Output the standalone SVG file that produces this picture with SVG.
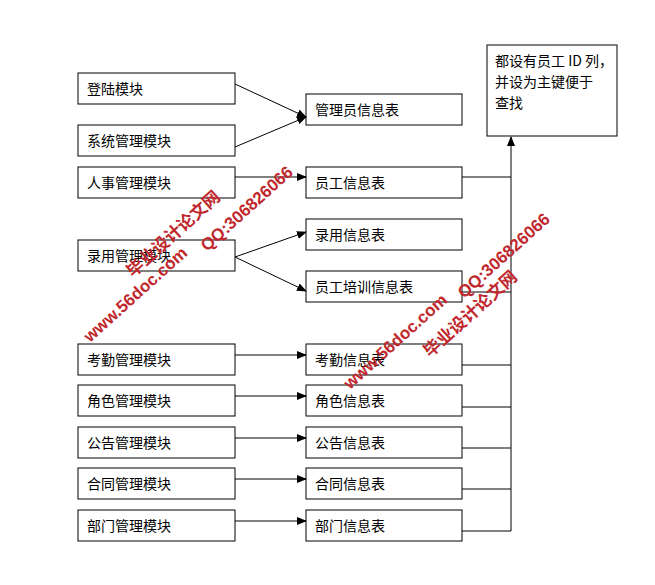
<svg xmlns="http://www.w3.org/2000/svg" width="655" height="585" viewBox="0 0 655 585">
<defs>
<marker id="a" markerWidth="10" markerHeight="8" refX="9" refY="4" orient="auto" markerUnits="userSpaceOnUse"><path d="M0,0 L10,4 L0,8 Z" fill="#000"/></marker>
<style>
.b{fill:#fff;stroke:#000;stroke-width:1}
.t{font-family:"Noto Sans CJK SC",sans-serif;font-size:14px;fill:#000}
.c{stroke:#000;stroke-width:1;fill:none}
.w{font-family:"Liberation Sans","Noto Sans CJK SC",sans-serif;font-weight:bold;fill:#c0282d;font-size:17px}
</style>
</defs>
<rect width="655" height="585" fill="#fff"/>
<g id="n1"><rect class="b" x="78" y="73" width="157" height="31"/><text class="t" x="87" y="94">登陆模块</text></g>
<g id="n2"><rect class="b" x="78" y="125" width="157" height="31"/><text class="t" x="87" y="146">系统管理模块</text></g>
<g id="n3"><rect class="b" x="78" y="167" width="157" height="31"/><text class="t" x="87" y="188">人事管理模块</text></g>
<g id="n4"><rect class="b" x="78" y="240" width="157" height="31"/><text class="t" x="87" y="261">录用管理模块</text></g>
<g id="n5"><rect class="b" x="78" y="344" width="157" height="31"/><text class="t" x="87" y="365">考勤管理模块</text></g>
<g id="n6"><rect class="b" x="78" y="385" width="157" height="31"/><text class="t" x="87" y="406">角色管理模块</text></g>
<g id="n7"><rect class="b" x="78" y="427" width="157" height="31"/><text class="t" x="87" y="448">公告管理模块</text></g>
<g id="n8"><rect class="b" x="78" y="468" width="157" height="31"/><text class="t" x="87" y="489">合同管理模块</text></g>
<g id="n9"><rect class="b" x="78" y="510" width="157" height="31"/><text class="t" x="87" y="531">部门管理模块</text></g>
<g id="m1"><rect class="b" x="306" y="94" width="156" height="31"/><text class="t" x="315" y="115">管理员信息表</text></g>
<g id="m2"><rect class="b" x="306" y="167" width="156" height="31"/><text class="t" x="315" y="188">员工信息表</text></g>
<g id="m3"><rect class="b" x="306" y="219" width="156" height="31"/><text class="t" x="315" y="240">录用信息表</text></g>
<g id="m4"><rect class="b" x="306" y="271" width="156" height="31"/><text class="t" x="315" y="292">员工培训信息表</text></g>
<g id="m5"><rect class="b" x="306" y="344" width="156" height="31"/><text class="t" x="315" y="365">考勤信息表</text></g>
<g id="m6"><rect class="b" x="306" y="385" width="156" height="31"/><text class="t" x="315" y="406">角色信息表</text></g>
<g id="m7"><rect class="b" x="306" y="427" width="156" height="31"/><text class="t" x="315" y="448">公告信息表</text></g>
<g id="m8"><rect class="b" x="306" y="468" width="156" height="31"/><text class="t" x="315" y="489">合同信息表</text></g>
<g id="m9"><rect class="b" x="306" y="510" width="156" height="31"/><text class="t" x="315" y="531">部门信息表</text></g>
<g id="note"><rect class="b" x="487" y="45" width="130" height="91"/><text class="t" x="495" y="66">都设有员工 ID 列，</text><text class="t" x="495" y="87">并设为主键便于</text><text class="t" x="495" y="108">查找</text></g>
<g id="connectors">
<path class="c" d="M235,84 L306,117" marker-end="url(#a)"/>
<path class="c" d="M235,147 L306,117" marker-end="url(#a)"/>
<path class="c" d="M235,177 L306,177" marker-end="url(#a)"/>
<path class="c" d="M235,257 L306,232" marker-end="url(#a)"/>
<path class="c" d="M235,257 L306,291" marker-end="url(#a)"/>
<path class="c" d="M235,355 L306,355" marker-end="url(#a)"/>
<path class="c" d="M235,396 L306,396" marker-end="url(#a)"/>
<path class="c" d="M235,438 L306,438" marker-end="url(#a)"/>
<path class="c" d="M235,479 L306,479" marker-end="url(#a)"/>
<path class="c" d="M235,521 L306,521" marker-end="url(#a)"/>
<path class="c" d="M511,531 L511,137" marker-end="url(#a)"/>
<path class="c" d="M462,177 H511 M462,292 H511 M462,365 H511 M462,407 H511 M462,448 H511 M462,489 H511 M462,531 H511"/>
</g>
<g id="watermark">
<text class="w" transform="translate(90,343) rotate(-42)">www.56doc.com</text>
<text class="w" transform="translate(133,278) rotate(-42)">毕业设计论文网</text>
<text class="w" transform="translate(207,252) rotate(-42)" font-size="15">QQ:306826066</text>
<text class="w" transform="translate(350,390) rotate(-42)">www.56doc.com</text>
<text class="w" transform="translate(430,358) rotate(-42)">毕业设计论文网</text>
<text class="w" transform="translate(464,299) rotate(-42)" font-size="15">QQ:306826066</text>
</g>
</svg>
